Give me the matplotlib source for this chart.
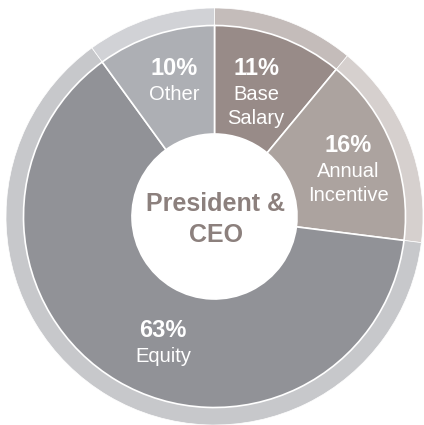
import numpy as np
import matplotlib
matplotlib.use("Agg")
import matplotlib.pyplot as plt

# données : part de la rémunération cible (sens horaire depuis midi)
categories = ["Base\nSalary", "Annual\nIncentive", "Equity", "Other"]
shares = [11, 16, 63, 10]
center_title = "President &\nCEO"

# couleurs : segment principal et anneau extérieur plus clair
seg_colors = ["#988b88", "#aca39f", "#919297", "#adafb4"]
ring_colors = ["#c4bcba", "#d6d0ce", "#c7c8cb", "#d1d2d6"]

# géométrie en pixels (image 424 x 425)
W, H = 424, 425
cx, cy_img = 214.5, 216.5
cy = H - cy_img
r_ring, r_seg, r_hole = 208.5, 191, 82.5

# position (angle en degrés, rayon en px) de la ligne "xx%" de chaque étiquette
label_polar = [(74.5, 155.6), (28.6, 152.6), (245.3, 123.5), (105.1, 155.4)]

fig = plt.figure(figsize=(W / 100, H / 100), dpi=100)
ax = fig.add_axes([0, 0, 1, 1])

ax.pie(shares, radius=r_ring, center=(cx, cy), startangle=90, counterclock=False,
       colors=ring_colors, wedgeprops=dict(width=r_ring - r_seg + 1, edgecolor="white", linewidth=0.5))
ax.pie(shares, radius=r_seg, center=(cx, cy), startangle=90, counterclock=False,
       colors=seg_colors, wedgeprops=dict(width=r_seg - r_hole, edgecolor="white", linewidth=1.2))

font = "Liberation Sans"
for cat, val, (ang, rad) in zip(categories, shares, label_polar):
    x = cx + rad * np.cos(np.radians(ang))
    y = cy + rad * np.sin(np.radians(ang))
    # pourcentage en gras (y = centre des majuscules)
    ax.text(x, y - 8.5, f"{val}%", ha="center", va="baseline", color="white",
            fontsize=17, fontweight="bold", family=font)
    for i, line in enumerate(cat.split("\n")):
        ax.text(x, y - 26 - 24 * i - 7.3, line, ha="center", va="baseline",
                color="white", fontsize=14.5, family=font)

# titre central
for i, line in enumerate(center_title.split("\n")):
    ax.text(cx + 1, H - (202 + 31 * i) - 8.8, line, ha="center", va="baseline",
            color="#8c807d", fontsize=18, fontweight="bold", family=font)

ax.set_xlim(0, W)
ax.set_ylim(0, H)
ax.set_aspect("equal")
ax.axis("off")

fig.savefig("out.png", dpi=100, facecolor="white")
